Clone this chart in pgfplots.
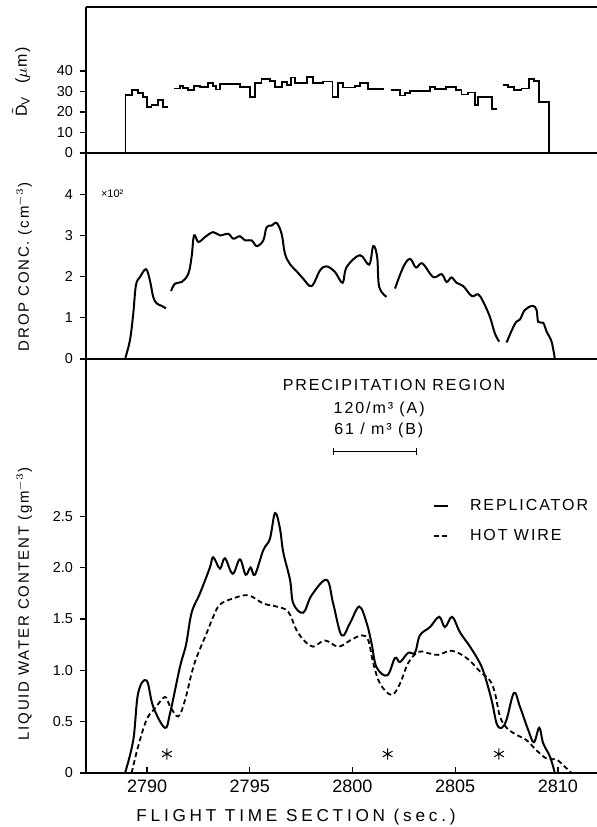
\documentclass[border=0pt]{standalone}
\usepackage{fontspec}
\setmainfont{Liberation Sans}
\newfontfamily\spaced[LetterSpace=12]{Liberation Sans}
\newfontfamily\wide[LetterSpace=22]{Liberation Sans}
\usepackage{pgfplots}
\pgfplotsset{compat=1.18}
\pgfplotsset{
  panel/.style={scale only axis, width=255.5pt, xmin=2787.03, xmax=2811.9,
    axis y line*=left, tick align=outside, major tick length=3pt,
    axis line style={line width=0.75pt}, tick style={line width=0.6pt, black},
    yticklabel style={font=\fontsize{7.2}{8}\selectfont},
    /pgf/number format/assume math mode=true, clip=false},
  curve/.style={line width=1pt, black, smooth, tension=0.6},
}
\begin{document}
\begin{tikzpicture}
\useasboundingbox (0,0) rectangle (298.5pt,413.5pt);
% ---------- top panel ----------
\begin{axis}[panel, at={(43pt,337pt)}, anchor=south west, height=73pt,
  axis x line*=box, ymin=0, ymax=71.2, xtick=\empty, ytick={0,10,20,30,40},
  unbounded coords=jump]
\addplot[const plot, line width=0.9pt, black] coordinates {
(2788.9,0) (2788.95,28.3) (2789.25,30.7) (2789.57,29.4) (2789.79,27.5) (2789.98,22.6) (2790.22,23.4) (2790.55,25.9) (2790.79,22.6) (2791.03,22.6)
(2791.1,nan)
(2791.33,31.5) (2791.6,32.6) (2791.77,31.8) (2792.01,30.7) (2792.3,32.6) (2792.58,32.3) (2792.98,34) (2793.22,32.6) (2793.35,31) (2793.55,33.5) (2794.52,32.1) (2795.0,27.5) (2795.25,34.3) (2795.57,36.1) (2795.98,35.3) (2796.23,32.1) (2796.55,34.6) (2796.8,33.0) (2797.01,36.8) (2797.2,34.1) (2797.77,37.2) (2798.09,34.1) (2798.58,34.9) (2799.03,27.2) (2799.3,34.1) (2799.55,31.9) (2800.12,32.6) (2800.36,34.1) (2800.77,31.1) (2801.55,31.1)
(2801.7,nan)
(2801.86,30.7) (2802.31,28) (2802.55,29.1) (2802.8,30.4) (2803.77,32.1) (2804.01,31.3) (2804.55,32.1) (2805.02,30.7) (2805.31,28.5) (2805.64,29.5) (2805.96,23.4) (2806.12,27.5) (2806.8,21.5) (2807.04,21.5)
(2807.2,nan)
(2807.34,33.2) (2807.58,32.1) (2807.86,30.7) (2808.23,31.5) (2808.59,35.9) (2808.85,35.3) (2809.09,24.7) (2809.58,0) (2809.6,0)
};
\end{axis}
% ---------- middle panel ----------
\begin{axis}[panel, at={(43pt,234pt)}, anchor=south west, height=103pt,
  axis x line*=bottom, ymin=0, ymax=5, xtick=\empty, ytick={0,1,2,3,4}]
\addplot[curve] coordinates {
(2788.93,0) (2789.17,0.46) (2789.33,1.1) (2789.46,1.79) (2789.66,1.99) (2789.95,2.18) (2790.14,1.91) (2790.3,1.51) (2790.47,1.35) (2790.71,1.29) (2790.92,1.23)};
\addplot[curve] coordinates {
(2791.17,1.65) (2791.36,1.83) (2791.69,1.87) (2792.01,2.07) (2792.17,2.48) (2792.29,3.0) (2792.5,2.84) (2792.82,2.96) (2793.22,3.08) (2793.55,3.0) (2793.95,3.04) (2794.2,2.92) (2794.52,2.98) (2794.77,2.88) (2795.09,2.88) (2795.34,2.74) (2795.66,2.88) (2795.82,3.2) (2796.07,3.24) (2796.31,3.30) (2796.55,3.04) (2796.71,2.56) (2796.96,2.3) (2797.3,2.12) (2797.6,1.95) (2798.01,1.77) (2798.42,2.15) (2798.74,2.25) (2799.15,2.11) (2799.52,1.85) (2799.71,2.23) (2800.36,2.52) (2800.81,2.29) (2801.01,2.74) (2801.2,2.48) (2801.3,1.75) (2801.66,1.51)};
\addplot[curve] coordinates {
(2802.07,1.71) (2802.47,2.23) (2802.8,2.43) (2803.09,2.22) (2803.4,2.32) (2803.93,1.99) (2804.34,2.06) (2804.58,1.87) (2804.82,1.98) (2805.06,1.85) (2805.39,1.77) (2805.8,1.53) (2806.12,1.57) (2806.36,1.39) (2806.69,1.02) (2806.93,0.62) (2807.14,0.42)};
\addplot[curve] coordinates {
(2807.5,0.40) (2807.91,0.86) (2808.15,0.96) (2808.39,1.19) (2808.77,1.29) (2808.96,1.19) (2809.04,0.90) (2809.28,0.88) (2809.45,0.66) (2809.69,0.42) (2809.85,0)};
\end{axis}
% ---------- bottom panel ----------
\begin{axis}[panel, at={(43pt,27pt)}, anchor=south west, height=207pt,
  axis x line*=bottom, ymin=0, ymax=4.03,
  ytick={0,0.5,1,1.5,2,2.5}, yticklabels={0,0.5,1.0,1.5,2.0,2.5},
  xtick={2790,2795,2800,2805,2810}, xtick align=inside,
  xticklabel style={font=\fontsize{9}{10}\selectfont, /pgf/number format/1000 sep={}},
  legend style={at={(axis cs:2803.9,2.71)}, anchor=north west, draw=none, fill=none,
    font=\spaced\fontsize{8}{9}\selectfont, row sep=4pt, inner sep=0pt,
    legend cell align=left},
  legend image code/.code={\draw[#1] (0pt,0pt) -- (7pt,0pt); \path[draw=none] (0pt,0pt) -- (16pt,0pt);}]
\addplot[curve] coordinates {
(2788.93,0) (2789.33,0.32) (2789.57,0.78) (2789.98,0.90) (2790.3,0.645) (2790.87,0.44) (2791.12,0.58) (2791.6,1.03) (2791.9,1.25) (2792.17,1.56) (2792.58,1.75) (2793.06,2.0) (2793.22,2.10) (2793.55,1.99) (2793.79,2.09) (2794.17,1.94) (2794.52,2.08) (2794.8,1.93) (2795.04,2.0) (2795.25,1.93) (2795.66,2.17) (2795.98,2.28) (2796.23,2.53) (2796.47,2.38) (2796.63,2.15) (2796.96,1.88) (2797.12,1.65) (2797.6,1.56) (2798.01,1.73) (2798.74,1.88) (2799.06,1.65) (2799.47,1.34) (2799.88,1.46) (2800.33,1.62) (2800.69,1.46) (2800.93,1.26) (2801.17,1.03) (2801.69,0.95) (2802.07,1.12) (2802.31,1.08) (2802.71,1.17) (2803.04,1.17) (2803.28,1.34) (2803.77,1.42) (2804.22,1.52) (2804.5,1.42) (2804.85,1.52) (2805.23,1.37) (2805.72,1.23) (2806.2,1.07) (2806.45,0.94) (2806.77,0.71) (2807.02,0.48) (2807.26,0.44) (2807.5,0.52) (2807.86,0.78) (2808.15,0.645) (2808.55,0.42) (2808.83,0.30) (2809.09,0.44) (2809.28,0.29) (2809.61,0.16) (2809.85,0)};
\addlegendentry{REPLICATOR}
\addplot[curve, line width=0.9pt, dash pattern=on 2.5pt off 1.6pt] coordinates {
(2789.25,0) (2789.57,0.26) (2789.98,0.52) (2790.39,0.63) (2790.87,0.74) (2791.12,0.65) (2791.52,0.55) (2791.85,0.71) (2792.17,0.97) (2792.42,1.13) (2792.9,1.36) (2793.22,1.52) (2793.55,1.64) (2794.2,1.70) (2794.93,1.73) (2795.66,1.65) (2796.31,1.62) (2796.87,1.57) (2797.28,1.39) (2797.69,1.28) (2798.09,1.23) (2798.66,1.29) (2799.31,1.23) (2799.88,1.29) (2800.45,1.34) (2800.77,1.29) (2801.01,1.07) (2801.34,0.87) (2801.9,0.76) (2802.31,0.87) (2802.71,1.07) (2803.2,1.18) (2803.61,1.17) (2804.17,1.15) (2804.82,1.19) (2805.55,1.12) (2806.2,0.99) (2806.69,0.90) (2806.93,0.78) (2807.18,0.55) (2807.5,0.44) (2807.99,0.37) (2808.47,0.32) (2808.96,0.22) (2809.45,0.14) (2809.93,0.13) (2810.34,0.06) (2810.66,0)};
\addlegendentry{HOT WIRE}
\addplot[only marks, mark=asterisk, mark size=2.8pt, mark options={line width=0.5pt}, forget plot]
  coordinates {(2790.97,0.185) (2801.71,0.185) (2807.13,0.185)};
\addplot[line width=0.5pt, mark=|, mark size=1.8pt, forget plot]
  coordinates {(2799.06,3.13) (2803.12,3.13)};
\node[font=\spaced\fontsize{8}{9}\selectfont] at (axis cs:2802.02,3.78) {PRECIPITATION REGION};
\node[font=\spaced\fontsize{8}{9}\selectfont] at (axis cs:2801.3,3.54) {120/m³ (A)};
\node[font=\spaced\fontsize{8}{9}\selectfont] at (axis cs:2801.28,3.34) {61 / m³ (B)};
\end{axis}
% ---------- labels ----------
\node[rotate=90, font=\spaced\fontsize{8}{9}\selectfont] at (10.5pt,372.5pt) {$\tilde{\mathrm{D}}_{\mathrm{V}}$ \ ($\mu$m)};
\node[rotate=90, font=\spaced\fontsize{7.5}{9}\selectfont] at (12pt,280pt) {DROP CONC. (cm$^{-3}$)};
\node[rotate=90, font=\spaced\fontsize{7.5}{9}\selectfont] at (12pt,111.5pt) {LIQUID WATER CONTENT (gm$^{-3}$)};
\node[anchor=west, font=\fontsize{5.5}{6}\selectfont] at (47pt,316.5pt) {×10²};
\node[font=\wide\fontsize{8.6}{9}\selectfont] at (148pt,5pt) {FLIGHT TIME SECTION (sec.)};
\end{tikzpicture}
\end{document}
